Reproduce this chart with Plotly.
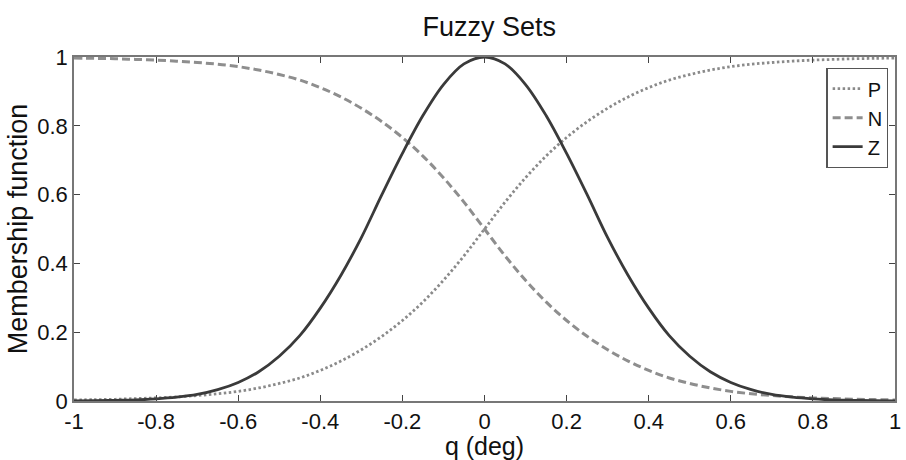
import plotly.graph_objects as go

# ---- data ----
q_deg = [-1.0, -0.95, -0.9, -0.85, -0.8, -0.75, -0.7, -0.65, -0.6, -0.55, -0.5,
         -0.45, -0.4, -0.35, -0.3, -0.25, -0.2, -0.15, -0.1, -0.05, 0.0,
         0.05, 0.1, 0.15, 0.2, 0.25, 0.3, 0.35, 0.4, 0.45, 0.5,
         0.55, 0.6, 0.65, 0.7, 0.75, 0.8, 0.85, 0.9, 0.95, 1.0]

P_values = [0.003, 0.004, 0.005, 0.007, 0.009, 0.012, 0.016, 0.021, 0.028, 0.038, 0.051,
            0.067, 0.089, 0.116, 0.149, 0.188, 0.234, 0.288, 0.351, 0.422, 0.5,
            0.578, 0.649, 0.712, 0.766, 0.812, 0.851, 0.884, 0.911, 0.933, 0.949,
            0.962, 0.972, 0.979, 0.984, 0.988, 0.991, 0.993, 0.995, 0.996, 0.997]

N_values = [0.997, 0.996, 0.995, 0.993, 0.991, 0.988, 0.984, 0.979, 0.972, 0.962, 0.949,
            0.933, 0.911, 0.884, 0.851, 0.812, 0.766, 0.712, 0.649, 0.578, 0.5,
            0.422, 0.351, 0.288, 0.234, 0.188, 0.149, 0.116, 0.089, 0.067, 0.051,
            0.038, 0.028, 0.021, 0.016, 0.012, 0.009, 0.007, 0.005, 0.004, 0.003]

Z_values = [0.0005, 0.001, 0.002, 0.003, 0.006, 0.011, 0.019, 0.033, 0.054, 0.085, 0.13,
            0.19, 0.27, 0.365, 0.475, 0.60, 0.72, 0.83, 0.92, 0.98, 1.0,
            0.98, 0.92, 0.83, 0.72, 0.60, 0.475, 0.365, 0.27, 0.19, 0.13,
            0.085, 0.054, 0.033, 0.019, 0.011, 0.006, 0.003, 0.002, 0.001, 0.0005]

x_tick_vals = [-1, -0.8, -0.6, -0.4, -0.2, 0, 0.2, 0.4, 0.6, 0.8, 1]
x_tick_text = ["-1", "-0.8", "-0.6", "-0.4", "-0.2", "0", "0.2", "0.4", "0.6", "0.8", "1"]
y_tick_vals = [0, 0.2, 0.4, 0.6, 0.8, 1]
y_tick_text = ["0", "0.2", "0.4", "0.6", "0.8", "1"]

FONT = "Liberation Sans, Arial, Helvetica, sans-serif"

fig = go.Figure()
fig.add_trace(go.Scatter(x=q_deg, y=P_values, mode="lines", name="P", line_shape="spline",
                         line=dict(color="#8a8a8a", width=2.8, dash="2.5px,2.5px")))
fig.add_trace(go.Scatter(x=q_deg, y=N_values, mode="lines", name="N", line_shape="spline",
                         line=dict(color="#8e8e8e", width=3, dash="8px,4px")))
fig.add_trace(go.Scatter(x=q_deg, y=Z_values, mode="lines", name="Z", line_shape="spline",
                         line=dict(color="#3a3a3a", width=2.8)))

axis_common = dict(showgrid=False, zeroline=False, showline=True, linecolor="#777777",
                   linewidth=1.5, mirror="ticks", ticks="inside", ticklen=6, tickwidth=1.2,
                   tickcolor="#444444", tickfont=dict(family=FONT, size=22, color="#111111"))

fig.update_layout(
    width=906, height=460,
    margin=dict(l=74, r=5, t=57, b=59),
    paper_bgcolor="white", plot_bgcolor="white",
    title=dict(text="Fuzzy Sets", x=0.54, xanchor="center", y=1 - 27 / 460, yanchor="middle",
               font=dict(family=FONT, size=27, color="#111111")),
    xaxis=dict(range=[-1, 1], tickvals=x_tick_vals, ticktext=x_tick_text,
               title=dict(text="q (deg)", font=dict(family=FONT, size=25, color="#111111"), standoff=0),
               **axis_common),
    yaxis=dict(range=[0, 1], tickvals=y_tick_vals, ticktext=y_tick_text,
               title=dict(text="Membership function", font=dict(family=FONT, size=27, color="#111111"), standoff=2),
               **axis_common),
    legend=dict(x=0.992, xanchor="right", y=0.968, yanchor="top",
                bordercolor="#555555", borderwidth=1.2, bgcolor="white",
                font=dict(family=FONT, size=20, color="#111111"),
                itemwidth=30, tracegroupgap=0),
    showlegend=True,
)

fig.write_html("out.html", config={"displayModeBar": False},
               post_script="document.body.style.margin='0';document.body.style.padding='0';")
